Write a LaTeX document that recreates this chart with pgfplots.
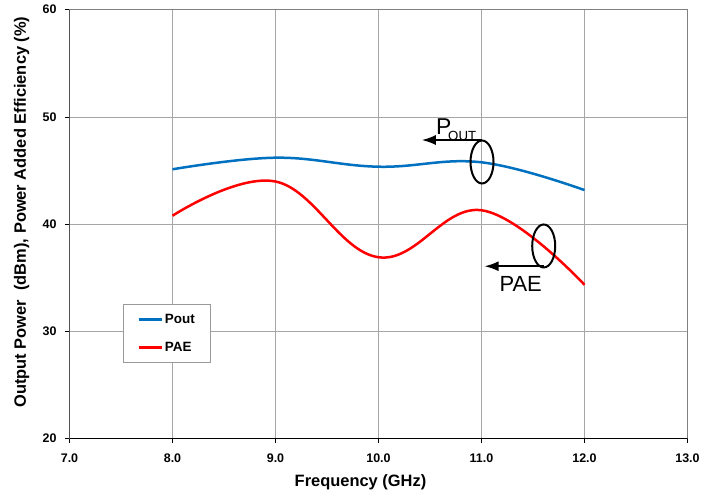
\documentclass[border=0pt]{standalone}
\usepackage{pgfplots}
\pgfplotsset{compat=1.18}
\usetikzlibrary{arrows.meta}
\usepackage{fontspec}
\setmainfont{Liberation Sans}
\definecolor{poutblue}{RGB}{0,112,192}
\begin{document}
\begin{tikzpicture}
\path[use as bounding box] (-69.5bp,-56.3bp) rectangle (647.5bp,438.7bp);
\begin{axis}[
  scale only axis, width=618bp, height=429bp,
  at={(0,0)}, anchor=south west,
  xmin=7, xmax=13, ymin=20, ymax=60,
  xtick={7,8,9,10,11,12,13}, ytick={20,30,40,50,60},
  /pgf/number format/assume math mode=true,
  ticklabel style={font=\fontsize{12.5}{14}\selectfont\bfseries},
  xticklabel style={/pgf/number format/.cd, fixed, fixed zerofill, precision=1},
  yticklabel style={/pgf/number format/.cd, fixed, precision=0},
  tick pos=left, tick align=outside, major tick length=4.5bp,
  tick style={black, line width=0.6bp},
  grid=major, major grid style={draw=black!35, line width=0.7bp},
  axis line style={draw=black!50, line width=0.9bp},
  xticklabel shift=7bp, yticklabel shift=5bp,
  legend style={at={(rel axis cs:0.0866,0.314)}, anchor=north west,
    draw=black!40, line width=0.7bp, fill=white,
    font=\fontsize{13.5}{15}\selectfont\bfseries,
    inner xsep=14bp, inner ysep=8bp, row sep=13bp,
    legend cell align=left},
  legend image code/.code={\draw[#1, line width=2.5bp] (0bp,0bp) -- (23bp,0bp);},
]
\addplot[poutblue, line width=2.5bp, smooth, tension=0.667] coordinates {
  (8.0,45.12) (9.0,46.2) (10.0,45.36) (11.0,45.77) (12.0,43.18)};
\addlegendentry{Pout}
\addplot[red, line width=2.5bp, smooth, tension=0.667] coordinates {
  (8.0,40.79) (9.0,43.98) (10.0,36.92) (11.0,41.3) (12.0,34.35)};
\addlegendentry{PAE}
\draw[black, line width=1bp] (rel axis cs:0,1) -- (rel axis cs:0,0) -- (rel axis cs:1,0);
% annotations
\draw[black, line width=2bp] (axis cs:11.005,45.8) ellipse [x radius=11.5bp, y radius=21.5bp];
\draw[black, line width=1.8bp, -{Latex[length=14bp,width=10bp]}] (axis cs:11.005,47.85) -- (axis cs:10.42,47.85);
\node[anchor=base west, inner sep=0pt, font=\fontsize{23}{25}\selectfont] at (axis cs:10.558,48.41) {P};
\node[anchor=base west, inner sep=0pt, font=\fontsize{13.3}{15}\selectfont] at (axis cs:10.675,47.8) {OUT};
\draw[black, line width=2bp] (axis cs:11.604,37.97) ellipse [x radius=11.5bp, y radius=21.5bp];
\draw[black, line width=1.8bp, -{Latex[length=14bp,width=10bp]}] (axis cs:11.604,36.08) -- (axis cs:11.03,36.08);
\node[anchor=center, inner sep=0pt, font=\fontsize{22}{24}\selectfont] at (axis cs:11.38,34.45) {PAE};
\end{axis}
\node[font=\fontsize{16.5}{18}\selectfont\bfseries] at (291bp,-44bp) {Frequency (GHz)};
\node[font=\fontsize{16.5}{18}\selectfont\bfseries, rotate=90] at (-47.8bp,226.7bp) {Output Power\ \ (dBm), Power Added Efficiency (\%)};
\end{tikzpicture}
\end{document}
